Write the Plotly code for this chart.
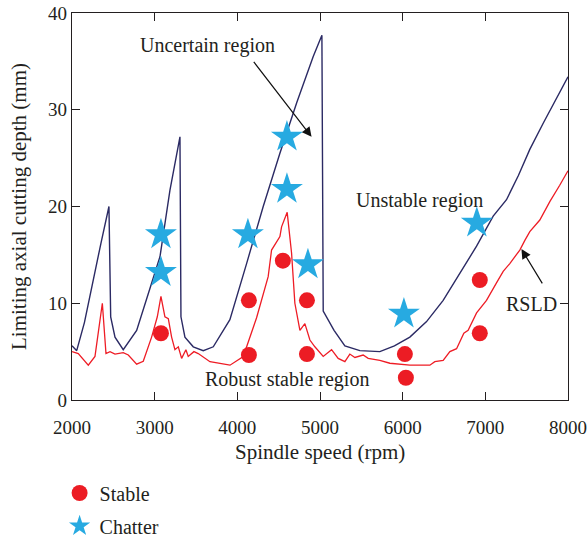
import plotly.graph_objects as go

# Stability boundary (dark blue)
blue_speed = [2000, 2057, 2150, 2250, 2350, 2447, 2468, 2520, 2620, 2782, 2943, 3064, 3185, 3306, 3318,
              3366, 3467, 3588, 3709, 3910, 4112, 4313, 4515, 4717, 4918, 5023, 5039, 5170, 5301, 5482, 5724,
              5900, 6087, 6289, 6490, 6692, 6894, 7095, 7256, 7400, 7538, 7700, 7850, 8000]
blue_depth = [5.6, 5.1, 8.0, 12.2, 16.2, 20.0, 8.6, 6.5, 5.2, 7.2, 11.4, 14.8, 21.7, 27.2, 8.6,
              6.5, 5.5, 5.1, 5.5, 8.3, 14.1, 20.0, 25.5, 30.7, 35.5, 37.7, 9.2, 7.2, 5.6, 5.1, 5.0,
              5.6, 6.5, 8.1, 10.3, 13.1, 15.9, 19.0, 20.7, 23.2, 25.9, 28.6, 31.0, 33.4]

# Robust stability lobe diagram (RSLD, red)
red_speed = [2000, 2076, 2197, 2278, 2367, 2411, 2460, 2520, 2620, 2681, 2782, 2862, 2963, 3032, 3076,
             3124, 3165, 3205, 3245, 3286, 3326, 3378, 3406, 3475, 3527, 3669, 3911, 4072, 4233, 4373,
             4414, 4515, 4535, 4603, 4656, 4696, 4757, 4817, 4878, 4938, 5039, 5140, 5220, 5301, 5361,
             5422, 5522, 5583, 5724, 5845, 6087, 6329, 6389, 6490, 6571, 6652, 6740, 6792, 6894, 7014,
             7135, 7216, 7296, 7417, 7478, 7538, 7659, 7780, 7900, 8000]
red_depth = [5.0, 4.8, 3.6, 4.5, 10.0, 4.8, 5.0, 4.75, 4.9, 4.65, 3.7, 4.0, 6.5, 8.6, 10.7,
             8.6, 8.4, 6.5, 5.2, 5.5, 4.3, 5.2, 4.5, 5.0, 4.8, 3.96, 3.6, 4.5, 8.5, 12.75,
             15.5, 16.9, 17.9, 19.4, 15.2, 10.0, 7.2, 7.9, 6.2, 5.5, 4.5, 5.2, 4.3, 3.96, 4.75,
             4.4, 4.65, 4.3, 4.1, 3.8, 3.6, 3.6, 3.96, 4.1, 5.0, 5.3, 6.9, 7.2, 9.0, 10.3,
             12.1, 13.3, 14.1, 15.5, 16.5, 17.4, 18.6, 20.5, 22.2, 23.7]

# Experimental cuts
stable_speed = [3076, 4140, 4140, 4551, 4842, 4842, 6027, 6039, 6933, 6933]
stable_depth = [6.9, 10.3, 4.65, 14.4, 10.3, 4.75, 4.75, 2.3, 12.4, 6.9]
chatter_speed = [3076, 3076, 4600, 4600, 4128, 4854, 6015, 6897]
chatter_depth = [17.1, 13.2, 27.2, 21.8, 17.1, 14.0, 8.9, 18.3]

x_ticks = [2000, 3000, 4000, 5000, 6000, 7000, 8000]
y_ticks = [0, 10, 20, 30, 40]

FONT = "Liberation Serif"
TXT = "#231f20"

fig = go.Figure()
fig.add_trace(go.Scatter(x=blue_speed, y=blue_depth, mode="lines",
                         line=dict(color="#2b2a64", width=1.4), showlegend=False, hoverinfo="skip"))
fig.add_trace(go.Scatter(x=red_speed, y=red_depth, mode="lines",
                         line=dict(color="#ee1c25", width=1.3), showlegend=False, hoverinfo="skip"))
fig.add_trace(go.Scatter(x=stable_speed, y=stable_depth, mode="markers", name="Stable",
                         legendgroup="a",
                         marker=dict(symbol="circle", size=16, color="#ec1c24", line=dict(width=0))))
fig.add_trace(go.Scatter(x=chatter_speed, y=chatter_depth, mode="markers", name="Chatter",
                         legendgroup="b",
                         marker=dict(symbol="star", size=24, color="#27aae1", line=dict(width=0))))

ann_font = dict(family=FONT, size=20, color=TXT)
annotations = [
    dict(x=3645, y=36.6, text="Uncertain region", showarrow=False, font=ann_font),
    dict(x=4898, y=27.2, ax=4185, ay=35.1, axref="x", ayref="y", text="", showarrow=True,
         arrowhead=2, arrowsize=1.6, arrowwidth=1.2, arrowcolor="#111"),
    dict(x=6208, y=20.6, text="Unstable region", showarrow=False, font=ann_font),
    dict(x=7562, y=9.9, text="RSLD", showarrow=False, font=ann_font),
    dict(x=7437, y=15.6, ax=7700, ay=11.9, axref="x", ayref="y", text="", showarrow=True,
         arrowhead=2, arrowsize=1.6, arrowwidth=1.2, arrowcolor="#111"),
    dict(x=4600, y=2.1, text="Robust stable region", showarrow=False, font=ann_font),
    dict(x=0.5, y=-0.134, xref="paper", yref="paper", text="Spindle speed (rpm)", showarrow=False,
         xanchor="center", yanchor="middle", font=dict(family=FONT, size=21, color=TXT)),
]

axis_common = dict(showline=True, linecolor="#231f20", linewidth=1.3, mirror="ticks",
                   ticks="inside", ticklen=8, tickwidth=1.2, tickcolor="#231f20",
                   showgrid=False, zeroline=False, automargin=False, ticklabeloverflow="allow",
                   tickfont=dict(family=FONT, size=19, color=TXT))

fig.update_layout(
    width=587, height=541,
    margin=dict(l=72, r=19, t=13, b=141, autoexpand=False),
    paper_bgcolor="white", plot_bgcolor="white",
    font=dict(family=FONT, size=19, color=TXT),
    xaxis=dict(range=[2000, 8000], tickvals=x_ticks, ticklabelstandoff=10, **axis_common),
    yaxis=dict(range=[0, 40], tickvals=y_ticks,
               title=dict(text="Limiting axial cutting depth (mm)", font=dict(family=FONT, size=21, color=TXT)),
               **axis_common),
    legend=dict(x=-0.025, y=-0.19, xanchor="left", yanchor="top", bgcolor="rgba(0,0,0,0)",
                font=dict(family=FONT, size=20, color=TXT), tracegroupgap=4, itemsizing="trace"),
    annotations=annotations,
)

fig.write_html("out.html")
